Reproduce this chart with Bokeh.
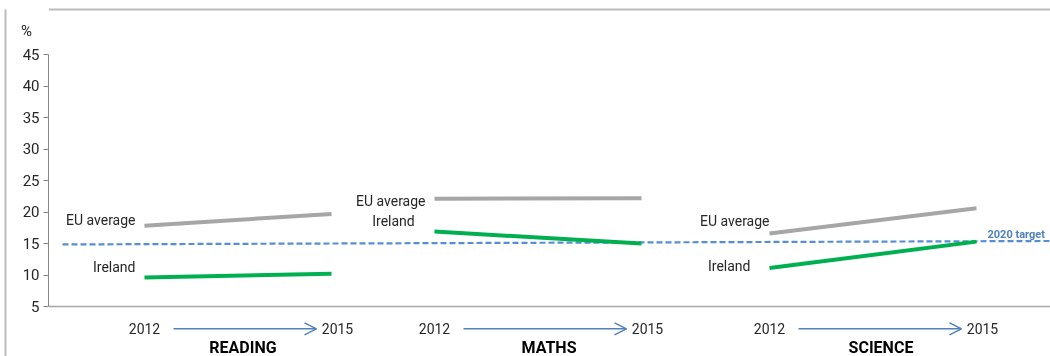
from bokeh.plotting import figure
from bokeh.models import (Range1d, FixedTicker, Span, Arrow, OpenHead, LinearAxis,
                          ColumnDataSource)
from bokeh.core.properties import value
from bokeh.embed import file_html
from bokeh.resources import INLINE

# ---- data ----
subjects = ["READING", "MATHS", "SCIENCE"]
years = ["2012", "2015"]
eu_2012 = [17.8, 22.1, 16.6]
eu_2015 = [19.7, 22.2, 20.6]
ie_2012 = [9.6, 16.9, 11.1]
ie_2015 = [10.2, 15.0, 15.3]
target = 15
target_label = "2020 target"
y_ticks = [5, 10, 15, 20, 25, 30, 35, 40, 45]
unit_label = "%\u00a0\u00a0"

# positions of the year points along the horizontal axis (category layout)
x_2012 = [0.96, 3.86, 7.21]
x_2015 = [2.83, 5.93, 9.28]

FONT = "Roboto"
TXT = "#262626"
UNIT_POS = 48.8

p = figure(width=1050, height=356, output_backend="svg", toolbar_location=None,
           x_range=Range1d(0, 10.02), y_range=Range1d(5 - 50 / 6.3, 45 + 54 / 6.3),
           min_border_left=48, min_border_right=0, min_border_top=0, min_border_bottom=0)
p.outline_line_color = None
p.xgrid.visible = False
p.ygrid.visible = False
p.xaxis.visible = False
p.styles = {"position": "fixed", "top": "0px", "left": "0px", "overflow": "hidden"}

# axis line (5..45) drawn by an inner axis with no ticks
la = LinearAxis(ticker=FixedTicker(ticks=[]), bounds=(5, 45), axis_line_color="#868686",
                major_tick_line_color=None, minor_tick_line_color=None,
                major_tick_in=0, major_tick_out=0, major_label_standoff=0)

# tick marks + labels, incl. the "%" unit label above the 45 tick
ya = p.yaxis[0]
ya.bounds = (5, UNIT_POS)
ya.ticker = FixedTicker(ticks=y_ticks + [UNIT_POS], minor_ticks=y_ticks)
ya.major_label_overrides = {UNIT_POS: unit_label}
ya.axis_line_color = None
ya.major_tick_line_color = None
ya.major_tick_in = 0
ya.major_tick_out = 5
ya.minor_tick_line_color = "#868686"
ya.minor_tick_in = 0
ya.minor_tick_out = 5
ya.major_label_text_font = FONT
ya.major_label_text_font_size = "15px"
ya.major_label_text_color = TXT
ya.major_label_standoff = 4

# empty spacer axis (blank axis label gives it width), then the outer
# chart-area border (left edge) as an axis line
sp = LinearAxis(ticker=FixedTicker(ticks=[]), axis_line_color=None,
                major_tick_line_color=None, minor_tick_line_color=None,
                major_tick_in=0, major_tick_out=0, major_label_standoff=0,
                axis_label="\u00a0", axis_label_standoff=0,
                axis_label_text_font=FONT, axis_label_text_font_size="8.5px")
ba = LinearAxis(ticker=FixedTicker(ticks=[]), axis_line_color="#bcbcbc", axis_line_width=2,
                major_tick_line_color=None, minor_tick_line_color=None,
                major_tick_in=0, major_tick_out=0, major_label_standoff=0,
                bounds=(5 - 50 / 6.3, 45 + 45 / 6.3))
p.left = [la, ya, sp, ba]
# top edge of the chart-area border
p.add_layout(Span(location=45 + 45 / 6.3, dimension="width", line_color="#bcbcbc", line_width=2))

# bottom axis line
p.add_layout(Span(location=5, dimension="width", line_color="#a6a6a6", line_width=1.5))

# target line
p.line([0.14, 10.02], [target - 0.15, target + 0.4], line_color="#558ed5", line_width=2.2,
       line_dash="6 3")
p.text([9.39], [target + 1.45], text=[target_label], text_font=value(FONT),
       text_font_size="11px", text_font_style="bold", text_color="#4f81bd",
       text_baseline="middle", text_align="left")

# series
for i in range(3):
    p.line([x_2012[i], x_2015[i]], [eu_2012[i], eu_2015[i]], line_color="#a6a6a6", line_width=4)
    p.line([x_2012[i], x_2015[i]], [ie_2012[i], ie_2015[i]], line_color="#00b050", line_width=4)

# series labels
lab_x = [x_2012[0] - 0.09, x_2012[0] - 0.09, x_2012[1] - 0.09, x_2012[1] - 0.41,
         x_2012[2] - 0.0, x_2012[2] - 0.19]
lab_y = [18.8, 11.2, 21.8, 18.65, 18.5, 11.5]
lab_t = ["EU average", "Ireland", "EU average", "Ireland", "EU average", "Ireland"]
lab_a = ["right", "right", "right", "center", "right", "right"]
p.text(x="x", y="y", text="t", text_align="a",
       source=ColumnDataSource(dict(x=lab_x, y=lab_y, t=lab_t, a=lab_a)),
       text_font=value(FONT), text_font_size="14px", text_color=TXT,
       text_baseline="middle")

# year labels and arrows
yx = x_2012 + [x + 0.06 for x in x_2015]
yt = [years[0]] * 3 + [years[1]] * 3
p.text(yx, [1.5] * 6, text=yt, text_font=value(FONT), text_font_size="14px",
       text_color=TXT, text_baseline="middle", text_align="center")
for i in range(3):
    p.add_layout(Arrow(end=OpenHead(size=12, line_color="#4f81bd", line_width=1.5),
                       x_start=x_2012[i] + 0.29, x_end=x_2015[i] - 0.15, y_start=1.45, y_end=1.45,
                       line_color="#4f81bd", line_width=1.5))
sub_x = [(a + b) / 2 for a, b in zip(x_2012, x_2015)]
sub_x = [sub_x[0] + 0.05, sub_x[1] + 0.11, sub_x[2] + 0.08]
p.text(sub_x, [-1.45] * 3, text=subjects, text_font=value(FONT), text_font_size="16px",
       text_font_style="bold", text_color="#000000", text_baseline="middle",
       text_align="center")

open("out.html", "w").write(file_html(p, INLINE))
